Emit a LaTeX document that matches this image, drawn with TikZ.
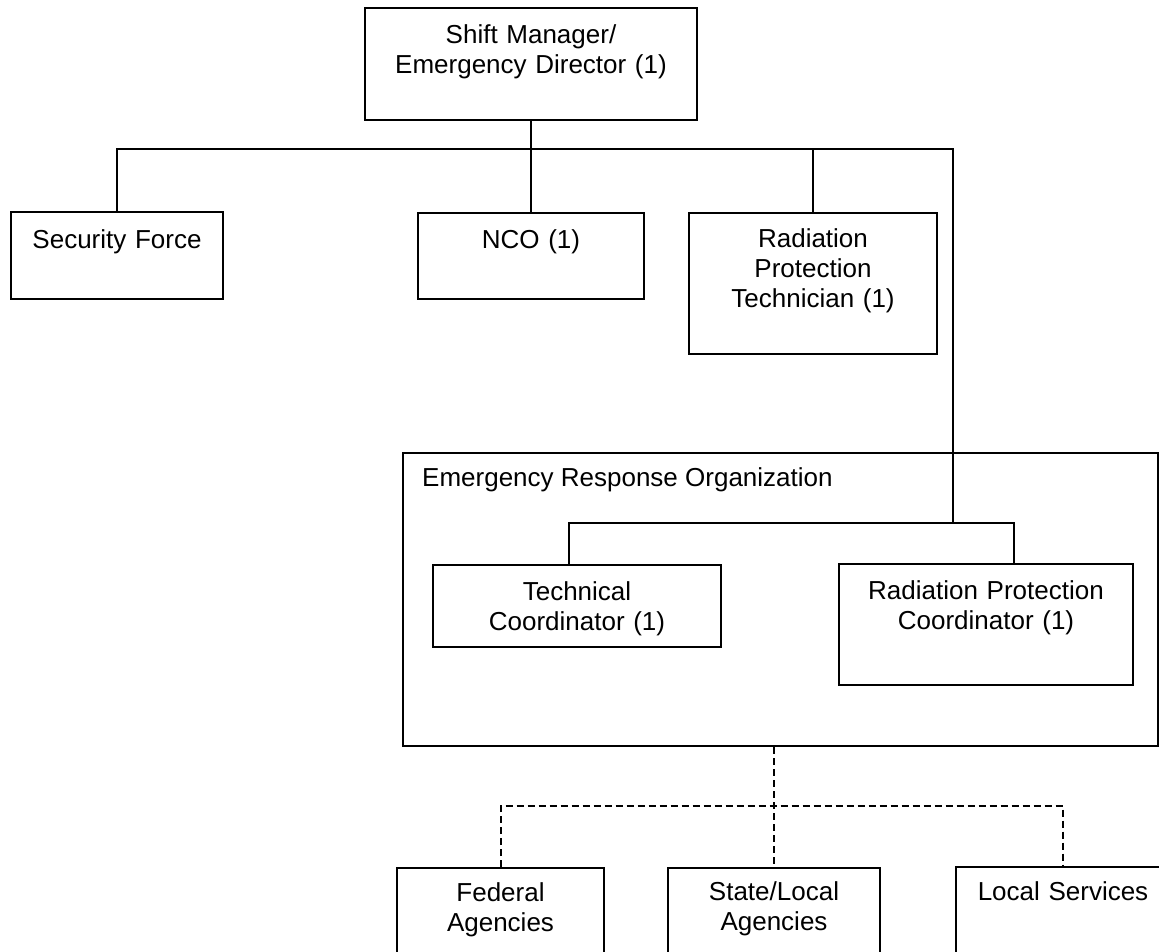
\documentclass[tikz,border=0pt]{standalone}
\usepackage{fontspec}
\setmainfont{Liberation Sans}
\begin{document}
\begin{tikzpicture}[x=1pt,y=-1pt,font=\fontsize{26}{30}\selectfont,
        orgbox/.style={draw,line width=2pt,inner sep=0pt,align=center,anchor=north west},
        conn/.style={line width=2pt},
        dashconn/.style={line width=2pt,dash pattern=on 7pt off 4pt}]
        \clip (0,0) rectangle (1159,951);
        \node [orgbox,text width=332pt,text height=35pt,text depth=77pt] (director) at (364,7) {Shift Manager/\\Emergency Director (1)};
        \node [orgbox,text width=212pt,text height=36pt,text depth=51pt] (security) at (10,211) {Security Force};
        \node [orgbox,text width=226pt,text height=35pt,text depth=51pt] (nco) at (417,212) {NCO (1)};
        \node [orgbox,text width=248pt,text height=34pt,text depth=107pt] (rpt) at (688,212) {Radiation\\Protection\\Technician (1)};
        \node [orgbox,minimum width=755pt,minimum height=293pt] (ero) at (402,452) {};
        \node [anchor=base west,inner sep=0pt] (erolabel) at ([xshift=20pt,yshift=-34pt]ero.north west) {Emergency Response Organization};
        \node [orgbox,text width=288pt,text height=35pt,text depth=47pt] (tech) at (432,564) {Technical\\Coordinator (1)};
        \node [orgbox,text width=294pt,text height=35pt,text depth=86pt] (rpc) at (838,563) {Radiation Protection\\Coordinator (1)};
        \node [orgbox,text width=207pt,text height=33pt,text depth=120pt] (federal) at (396,867) {Federal\\Agencies};
        \node [orgbox,text width=212pt,text height=32pt,text depth=120pt] (statelocal) at (667,867) {State/Local\\Agencies};
        \node [orgbox,text width=214pt,text height=33pt,text depth=120pt] (localserv) at (955,866) {Local Services};
        \coordinate (busright) at (953,149);
        \coordinate (erojoin) at (953,523);
        \coordinate (dashbus) at (0,806);
        \draw [conn] (director.south) -- (nco.north);
        \draw [conn] (security.north) |- (busright) -- (erojoin);
        \draw [conn] (rpt.north) -- (rpt.north |- busright);
        \draw [conn] ([xshift=-8pt]tech.north) |- ([xshift=28pt]rpc.north |- erojoin) -- ([xshift=28pt]rpc.north);
        \draw [dashconn] (statelocal.north |- ero.south) -- (statelocal.north);
        \draw [dashconn] (federal.north) |- (localserv.north |- dashbus) -- (localserv.north);
    \end{tikzpicture}
\end{document}
